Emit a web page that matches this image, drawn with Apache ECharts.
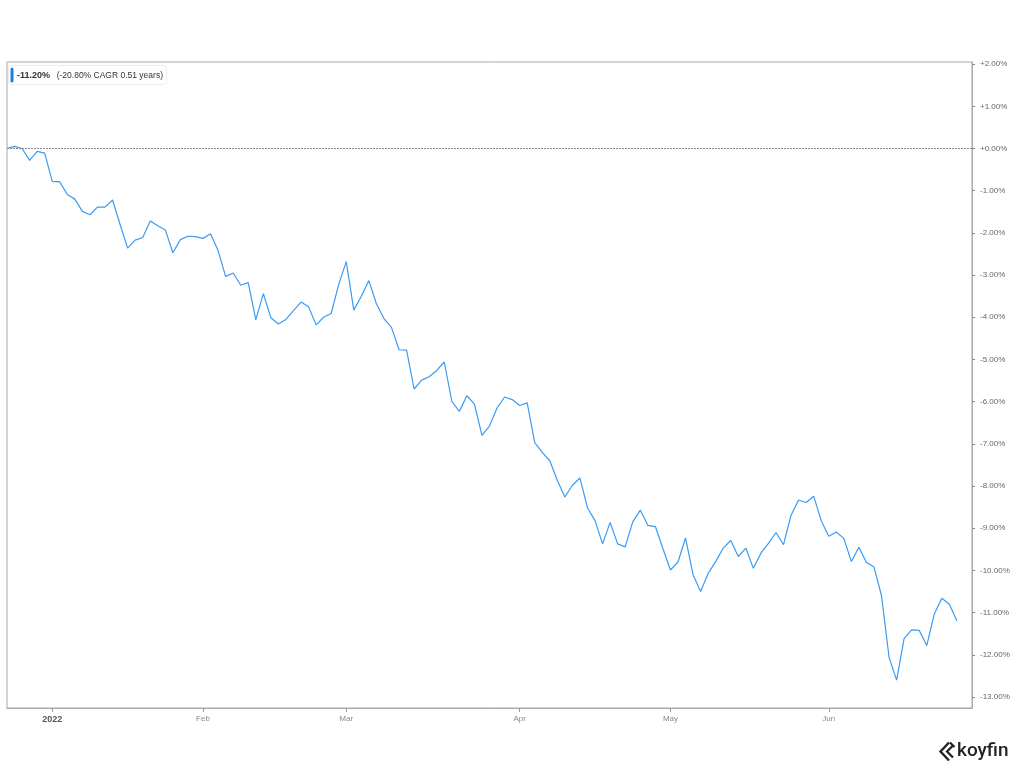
<!DOCTYPE html>
<html>
<head>
<meta charset="utf-8">
<script src="https://cdn.jsdelivr.net/npm/echarts@6/dist/echarts.min.js"></script>
<style>
html,body{margin:0;padding:0;background:#fff;}
#chart{width:1024px;height:768px;}
</style>
</head>
<body>
<div id="chart"></div>
<script>
// Trading days (category axis); last two are empty padding days on the axis
var dates = [
'2021-12-23','2021-12-27','2021-12-28','2021-12-29','2021-12-30','2021-12-31',
'2022-01-03','2022-01-04','2022-01-05','2022-01-06','2022-01-07','2022-01-10','2022-01-11','2022-01-12','2022-01-13','2022-01-14',
'2022-01-18','2022-01-19','2022-01-20','2022-01-21','2022-01-24','2022-01-25','2022-01-26','2022-01-27','2022-01-28','2022-01-31',
'2022-02-01','2022-02-02','2022-02-03','2022-02-04','2022-02-07','2022-02-08','2022-02-09','2022-02-10','2022-02-11','2022-02-14',
'2022-02-15','2022-02-16','2022-02-17','2022-02-18','2022-02-22','2022-02-23','2022-02-24','2022-02-25','2022-02-28',
'2022-03-01','2022-03-02','2022-03-03','2022-03-04','2022-03-07','2022-03-08','2022-03-09','2022-03-10','2022-03-11','2022-03-14',
'2022-03-15','2022-03-16','2022-03-17','2022-03-18','2022-03-21','2022-03-22','2022-03-23','2022-03-24','2022-03-25','2022-03-28',
'2022-03-29','2022-03-30','2022-03-31',
'2022-04-01','2022-04-04','2022-04-05','2022-04-06','2022-04-07','2022-04-08','2022-04-11','2022-04-12','2022-04-13','2022-04-14',
'2022-04-18','2022-04-19','2022-04-20','2022-04-21','2022-04-22','2022-04-25','2022-04-26','2022-04-27','2022-04-28','2022-04-29',
'2022-05-02','2022-05-03','2022-05-04','2022-05-05','2022-05-06','2022-05-09','2022-05-10','2022-05-11','2022-05-12','2022-05-13',
'2022-05-16','2022-05-17','2022-05-18','2022-05-19','2022-05-20','2022-05-23','2022-05-24','2022-05-25','2022-05-26','2022-05-27',
'2022-05-31',
'2022-06-01','2022-06-02','2022-06-03','2022-06-06','2022-06-07','2022-06-08','2022-06-09','2022-06-10','2022-06-13','2022-06-14',
'2022-06-15','2022-06-16','2022-06-17','2022-06-21','2022-06-22','2022-06-23','2022-06-24','2022-06-27',
'2022-06-28','2022-06-29'
];

// Cumulative return, percent
var returns = [
0, 0.05, 0, -0.28, -0.07, -0.11,
-0.78, -0.79, -1.09, -1.20, -1.49, -1.57, -1.39, -1.39, -1.22, -1.80,
-2.36, -2.17, -2.11, -1.72, -1.83, -1.93, -2.47, -2.16, -2.08, -2.09,
-2.13, -2.02, -2.42, -3.03, -2.95, -3.24, -3.18, -4.06, -3.44, -4.01,
-4.16, -4.05, -3.84, -3.64, -3.75, -4.18, -4.00, -3.91, -3.22,
-2.68, -3.83, -3.50, -3.13, -3.68, -4.03, -4.24, -4.77, -4.78, -5.70,
-5.49, -5.41, -5.26, -5.06, -5.99, -6.23, -5.86, -6.06, -6.80, -6.58,
-6.15, -5.89, -5.95,
-6.09, -6.03, -6.97, -7.20, -7.40, -7.87, -8.26, -7.98, -7.81, -8.52,
-8.82, -9.37, -8.86, -9.37, -9.44, -8.85, -8.57, -8.93, -8.96, -9.48,
-9.99, -9.80, -9.23, -10.10, -10.50, -10.07, -9.79, -9.47, -9.29, -9.67,
-9.47, -9.95, -9.59, -9.36, -9.10, -9.39, -8.69, -8.33, -8.39, -8.24,
-8.82,
-9.19, -9.09, -9.24, -9.79, -9.45, -9.81, -9.92, -10.60, -12.06, -12.60,
-11.61, -11.41, -11.42, -11.78, -11.03, -10.66, -10.80, -11.20
];

var yTicks = [2, 1, 0, -1, -2, -3, -4, -5, -6, -7, -8, -9, -10, -11, -12, -13];
var monthNames = ['Jan','Feb','Mar','Apr','May','Jun','Jul','Aug','Sep','Oct','Nov','Dec'];
var legendMain = '-11.20%';
var legendSub = '(-20.80% CAGR 0.51 years)';

function isMonthStart(idx) {
  if (idx === 0) return false;
  return dates[idx].slice(0, 7) !== dates[idx - 1].slice(0, 7);
}

var chart = echarts.init(document.getElementById('chart'));
chart.setOption({
  animation: false,
  backgroundColor: '#ffffff',
  grid: {
    left: 7, right: 52, top: 62, bottom: 60,
    show: true, borderColor: '#a8a8a8', borderWidth: 1
  },
  xAxis: {
    type: 'category',
    data: dates,
    boundaryGap: false,
    axisLine: { show: true, onZero: false, lineStyle: { color: '#a8a8a8' } },
    axisTick: {
      show: true, length: 4, lineStyle: { color: '#999' },
      interval: function (idx) { return isMonthStart(idx); }
    },
    axisLabel: {
      margin: 7,
      interval: function (idx) { return isMonthStart(idx); },
      formatter: function (val) {
        var m = parseInt(val.slice(5, 7), 10);
        if (m === 1) return '{yr|' + val.slice(0, 4) + '}';
        return '{mo|' + monthNames[m - 1] + '}';
      },
      rich: {
        yr: { fontSize: 9, color: '#555', fontFamily: 'Liberation Sans, Arial, sans-serif', fontWeight: 'bold' },
        mo: { fontSize: 8, color: '#888', fontFamily: 'Liberation Sans, Arial, sans-serif' }
      }
    },
    splitLine: { show: false }
  },
  yAxis: {
    type: 'value',
    position: 'right',
    min: -13.26,
    max: 2.05,
    axisLine: { show: true, lineStyle: { color: '#a8a8a8' } },
    axisTick: { show: true, length: 3, customValues: yTicks, lineStyle: { color: '#888' } },
    axisLabel: {
      customValues: yTicks,
      margin: 8,
      fontSize: 8,
      color: '#666',
      fontFamily: 'Liberation Sans, Arial, sans-serif',
      formatter: function (v) {
        var r = Math.round(v * 100) / 100;
        return (r >= 0 ? '+' : '') + (r === 0 ? 0 : r).toFixed(2) + '%';
      }
    },
    splitLine: { show: false }
  },
  series: [{
    type: 'line',
    data: returns,
    symbol: 'none',
    lineStyle: { color: '#3a9bf4', width: 1.2 },
    z: 3,
    markLine: {
      silent: true,
      symbol: ['none', 'none'],
      label: { show: false },
      lineStyle: { color: '#8a8a8a', type: [2, 1], width: 1 },
      data: [{ yAxis: 0 }],
      z: 2
    }
  }],
  graphic: [
    {
      type: 'rect',
      left: 8, top: 65,
      shape: { width: 158, height: 19, r: 3 },
      style: { fill: '#ffffff', stroke: '#ececec', lineWidth: 1 },
      z: 10
    },
    {
      type: 'rect',
      left: 10.5, top: 67.5,
      shape: { width: 3, height: 15, r: 1.5 },
      style: { fill: '#1a7fe8' },
      z: 11
    },
    {
      type: 'text',
      left: 17, top: 70,
      style: {
        text: '{a|' + legendMain + '}  {b|' + legendSub + '}',
        rich: {
          a: { fontSize: 9, fontWeight: 'bold', fill: '#333', fontFamily: 'Liberation Sans, Arial, sans-serif' },
          b: { fontSize: 8.5, fill: '#333', fontFamily: 'Liberation Sans, Arial, sans-serif' }
        }
      },
      z: 11
    },
    {
      type: 'polyline',
      shape: { points: [[949, 742.5], [940.5, 751.5], [949, 760.5]] },
      style: { stroke: '#222', lineWidth: 2.4, fill: null },
      z: 10
    },
    {
      type: 'polyline',
      shape: { points: [[953, 745.5], [947, 751.5], [953, 757.5]] },
      style: { stroke: '#222', lineWidth: 2.2, fill: null },
      z: 10
    },
    {
      type: 'polyline',
      shape: { points: [[950, 742.5], [954.5, 747]] },
      style: { stroke: '#222', lineWidth: 2.2, fill: null },
      z: 10
    },
    {
      type: 'text',
      left: 957, top: 742,
      style: { text: 'koyfin', fontSize: 19, fontWeight: 500, fill: '#222', fontFamily: 'Roboto, Liberation Sans, sans-serif' },
      z: 10
    }
  ]
});
</script>
</body>
</html>
